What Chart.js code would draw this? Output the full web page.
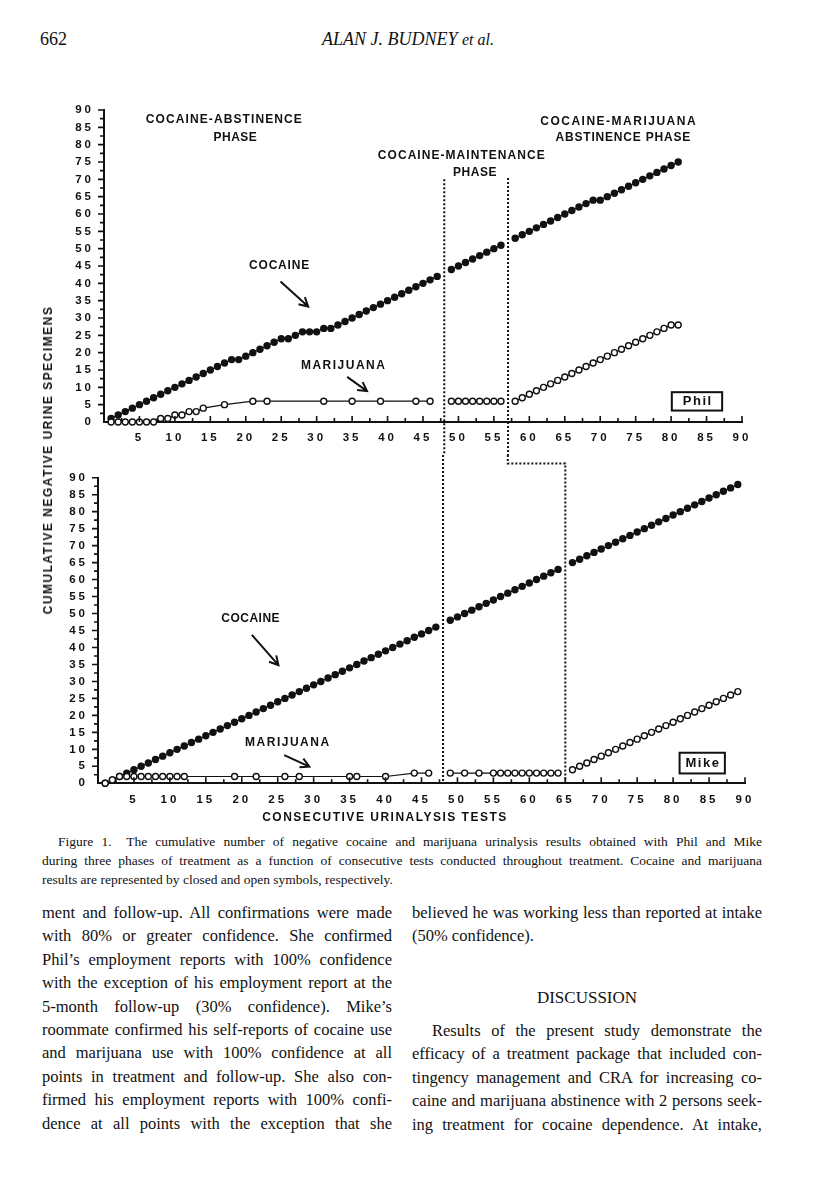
<!DOCTYPE html>
<html>
<head>
<meta charset="utf-8">
<script src="https://cdn.jsdelivr.net/npm/chart.js@4.4.1/dist/chart.umd.min.js"></script>
<style>
  body { margin: 0; width: 816px; height: 1200px; position: relative; overflow: hidden; background: #fff; color: #111; font-family: "Liberation Serif", "Times New Roman", serif; }
  canvas { position: absolute; left: 0; }
  .abs { position: absolute; }
  .sans { font-family: "Liberation Sans", Arial, sans-serif; font-weight: bold; letter-spacing: 1.5px; font-size: 12px; white-space: nowrap; }
  .col { position: absolute; font-size: 16.5px; line-height: 23.4px; }
  .j { text-align: justify; text-align-last: justify; }
  .cap { position: absolute; left: 42px; width: 720px; font-size: 13.5px; line-height: 19px; }
</style>
</head>
<body>

<div class="abs" style="left:40px;top:29px;font-size:18px;">662</div>
<div class="abs" style="left:0;width:816px;top:29px;font-size:18px;text-align:center;font-style:italic;">ALAN J. BUDNEY <span style="font-size:16px">et al.</span></div>

<canvas id="phil" width="816" height="367" style="top:88px"></canvas>
<canvas id="mike" width="816" height="370" style="top:455px"></canvas>

<div class="abs sans" style="left:48px;top:460px;transform:translate(-50%,-50%) rotate(-90deg);">CUMULATIVE NEGATIVE URINE SPECIMENS</div>
<div class="abs sans" style="left:385px;top:817px;transform:translate(-50%,-50%);">CONSECUTIVE URINALYSIS TESTS</div>

<div class="cap" style="top:832px;">
  <div class="j" style="text-indent:16px">Figure 1.&ensp; The cumulative number of negative cocaine and marijuana urinalysis results obtained with Phil and Mike</div>
  <div class="j">during three phases of treatment as a function of consecutive tests conducted throughout treatment. Cocaine and marijuana</div>
  <div>results are represented by closed and open symbols, respectively.</div>
</div>

<div class="col" style="left:42px;top:901px;width:350px;">
  <div class="j">ment and follow-up. All confirmations were made</div>
  <div class="j">with 80% or greater confidence. She confirmed</div>
  <div class="j">Phil’s employment reports with 100% confidence</div>
  <div class="j">with the exception of his employment report at the</div>
  <div class="j">5-month follow-up (30% confidence). Mike’s</div>
  <div class="j">roommate confirmed his self-reports of cocaine use</div>
  <div class="j">and marijuana use with 100% confidence at all</div>
  <div class="j">points in treatment and follow-up. She also con-</div>
  <div class="j">firmed his employment reports with 100% confi-</div>
  <div class="j">dence at all points with the exception that she</div>
</div>

<div class="col" style="left:412px;top:901px;width:350px;">
  <div class="j">believed he was working less than reported at intake</div>
  <div>(50% confidence).</div>
</div>
<div class="col" style="left:412px;top:986px;width:350px;text-align:center;font-size:17px;">DISCUSSION</div>
<div class="col" style="left:412px;top:1019px;width:350px;">
  <div class="j" style="text-indent:20px">Results of the present study demonstrate the</div>
  <div class="j">efficacy of a treatment package that included con-</div>
  <div class="j">tingency management and CRA for increasing co-</div>
  <div class="j">caine and marijuana abstinence with 2 persons seek-</div>
  <div class="j">ing treatment for cocaine dependence. At intake,</div>
</div>

<script>
// Values: test number -> cumulative negative specimens.
// null marks the test where the phase line sits (line is broken there).
const philCocaineTests = [1,2,3,4,5,6,7,8,9,10,11,12,13,14,15,16,17,18,19,20,21,22,23,24,25,26,27,28,29,30,
  31,32,33,34,35,36,37,38,39,40,41,42,43,44,45,46,47,48,49,50,51,52,53,54,55,56,57,58,59,60,
  61,62,63,64,65,66,67,68,69,70,71,72,73,74,75,76,77,78,79,80,81];
const philCocaineNeg = [1,2,3,4,5,6,7,8,9,10,11,12,13,14,15,16,17,18,18,19,20,21,22,23,24,24,25,26,26,26,
  27,27,28,29,30,31,32,33,34,35,36,37,38,39,40,41,42,null,44,45,46,47,48,49,50,51,null,53,54,55,
  56,57,58,59,60,61,62,63,64,64,65,66,67,68,69,70,71,72,73,74,75];

const philMarijuanaTests = [1,2,3,4,5,6,7,8,9,10,11,12,13,14,17,21,23,31,35,39,44,46,48,
  49,50,51,52,53,54,55,56,57,58,59,60,61,62,63,64,65,66,67,68,69,70,71,72,73,74,75,76,77,78,79,80,81];
const philMarijuanaNeg = [0,0,0,0,0,0,0,1,1,2,2,3,3,4,5,6,6,6,6,6,6,6,null,
  6,6,6,6,6,6,6,6,null,6,7,8,9,10,11,12,13,14,15,16,17,18,19,20,21,22,23,24,25,26,27,28,28];

const mikeCocaineTests = [1,2,3,4,5,6,7,8,9,10,11,12,13,14,15,16,17,18,19,20,21,22,23,24,25,26,27,28,29,30,
  31,32,33,34,35,36,37,38,39,40,41,42,43,44,45,46,47,48,49,50,51,52,53,54,55,56,57,58,59,60,
  61,62,63,64,65,66,67,68,69,70,71,72,73,74,75,76,77,78,79,80,81,82,83,84,85,86,87,88,89];
const mikeCocaineNeg = [0,1,2,3,4,5,6,7,8,9,10,11,12,13,14,15,16,17,18,19,20,21,22,23,24,25,26,27,28,29,
  30,31,32,33,34,35,36,37,38,39,40,41,42,43,44,45,46,null,48,49,50,51,52,53,54,55,56,57,58,59,
  60,61,62,63,null,65,66,67,68,69,70,71,72,73,74,75,76,77,78,79,80,81,82,83,84,85,86,87,88];

const mikeMarijuanaTests = [1,2,3,4,5,6,7,8,9,10,11,12,19,22,26,28,35,36,40,44,46,48,
  49,51,53,55,56,57,58,59,60,61,62,63,64,65,
  66,67,68,69,70,71,72,73,74,75,76,77,78,79,80,81,82,83,84,85,86,87,88,89];
const mikeMarijuanaNeg = [0,1,2,2,2,2,2,2,2,2,2,2,2,2,2,2,2,2,2,3,3,null,
  3,3,3,3,3,3,3,3,3,3,3,3,3,null,
  4,5,6,7,8,9,10,11,12,13,14,15,16,17,18,19,20,21,22,23,24,25,26,27];

const FONT = '"Liberation Sans", Arial, sans-serif';
const INK = '#111';

function series(tests, values) {
    return tests.map((t, i) => ({ x: t, y: values[i] }));
}

// tick labels are letter-spaced in the original
const spacing = {
    id: 'spacing',
    beforeDraw(chart) { chart.ctx.letterSpacing = '3px'; },          // x scale (z 0)
    afterDatasetsDraw(chart) { chart.ctx.letterSpacing = '1px'; },   // y scale (z 1)
    afterDraw(chart) { chart.ctx.letterSpacing = '0px'; }
};

// short tick marks: y ticks outward, x ticks pointing up into the plot
const tickMarks = {
    id: 'tickMarks',
    afterDraw(chart) {
        const ctx = chart.ctx, xs = chart.scales.x, ys = chart.scales.y;
        ctx.save();
        ctx.strokeStyle = INK;
        ctx.lineWidth = 1.6;
        ctx.beginPath();
        xs.ticks.forEach(t => {
            if (t.value === 0) return;
            const px = xs.getPixelForValue(t.value), len = t.value % 5 === 0 ? 6 : 4;
            ctx.moveTo(px, ys.bottom);
            ctx.lineTo(px, ys.bottom - len);
        });
        ys.ticks.forEach(t => {
            if (t.value === 0) return;
            const py = ys.getPixelForValue(t.value), len = t.value % 5 === 0 ? 6 : 4;
            ctx.moveTo(xs.left, py);
            ctx.lineTo(xs.left - len, py);
        });
        ctx.stroke();
        ctx.restore();
    }
};

// labels, arrows, name box and the dotted phase lines, placed in data units
const notes = {
    id: 'notes',
    afterDraw(chart, args, opts) {
        const ctx = chart.ctx, xs = chart.scales.x, ys = chart.scales.y;
        const X = v => xs.getPixelForValue(v);
        const Y = v => v === 'top' ? 0 : v === 'bottom' ? chart.height : ys.getPixelForValue(v);
        ctx.save();
        ctx.fillStyle = INK;
        ctx.strokeStyle = INK;
        ctx.textAlign = 'center';
        ctx.textBaseline = 'middle';
        opts.labels.forEach(l => {
            ctx.font = `bold 12px ${FONT}`;
            ctx.letterSpacing = l.sp + 'px';
            ctx.fillText(l.text, X(l.x) + l.sp / 2, Y(l.y));
        });

        ctx.letterSpacing = '0px';
        ctx.lineWidth = 2;
        opts.arrows.forEach(a => {
            const x1 = X(a.from[0]), y1 = Y(a.from[1]), x2 = X(a.to[0]), y2 = Y(a.to[1]);
            const ang = Math.atan2(y2 - y1, x2 - x1), h = 10;
            ctx.beginPath();
            ctx.moveTo(x1, y1);
            ctx.lineTo(x2, y2);
            ctx.moveTo(x2 - h * Math.cos(ang - 0.5), y2 - h * Math.sin(ang - 0.5));
            ctx.lineTo(x2, y2);
            ctx.lineTo(x2 - h * Math.cos(ang + 0.5), y2 - h * Math.sin(ang + 0.5));
            ctx.stroke();
        });

        const b = opts.box;
        ctx.strokeRect(X(b.x0), Y(b.y1), X(b.x1) - X(b.x0), Y(b.y0) - Y(b.y1));
        ctx.font = `bold 13px ${FONT}`;
        ctx.letterSpacing = '1.5px';
        ctx.fillText(b.text, (X(b.x0) + X(b.x1)) / 2 + 0.75, (Y(b.y0) + Y(b.y1)) / 2 + 0.5);
        ctx.letterSpacing = '0px';

        ctx.setLineDash([2, 2]);
        ctx.lineWidth = 2;
        opts.phaseLines.forEach(path => {
            ctx.beginPath();
            path.forEach(([vx, vy], i) => {
                if (i === 0) ctx.moveTo(X(vx), Y(vy));
                else ctx.lineTo(X(vx), Y(vy));
            });
            ctx.stroke();
        });
        ctx.restore();
    }
};

function makeChart(id, cfg) {
    const tickFont = { family: FONT, size: 11.5, weight: 'bold' };
    return new Chart(document.getElementById(id), {
        type: 'line',
        data: {
            datasets: [
                {
                    label: 'Marijuana',
                    data: series(cfg.mjTests, cfg.mjNeg),
                    borderColor: INK, borderWidth: 1.2,
                    pointRadius: 3, pointBorderWidth: 1.4,
                    pointBackgroundColor: '#fff', pointBorderColor: INK,
                    clip: false
                },
                {
                    label: 'Cocaine',
                    data: series(cfg.cocTests, cfg.cocNeg),
                    borderColor: INK, borderWidth: 1.2,
                    pointRadius: 3.7, pointBorderWidth: 0,
                    pointBackgroundColor: INK, pointBorderColor: INK,
                    clip: false
                }
            ]
        },
        options: {
            responsive: false,
            animation: false,
            devicePixelRatio: 1,
            events: [],
            layout: { padding: cfg.padding },
            plugins: {
                legend: { display: false },
                tooltip: { enabled: false },
                notes: cfg.notes
            },
            scales: {
                x: {
                    type: 'linear', min: 0, max: 90,
                    afterFit: axis => { axis.height = 28; },
                    border: { display: true, width: 2, color: INK },
                    grid: { drawOnChartArea: false, drawTicks: false },
                    ticks: {
                        stepSize: 2.5, autoSkip: false, maxRotation: 0, padding: cfg.xPad,
                        color: INK, font: tickFont,
                        callback: v => (v > 0 && v % 5 === 0) ? String(v) : ''
                    }
                },
                y: {
                    type: 'linear', min: 0, max: 90, z: 1,
                    afterFit: axis => { axis.width = cfg.yWidth; },
                    border: { display: true, width: 2, color: INK },
                    grid: { drawOnChartArea: false, drawTicks: false },
                    ticks: {
                        stepSize: 2.5, autoSkip: false, padding: 10,
                        color: INK, font: { family: FONT, size: 11.5, weight: 'bold' },
                        callback: v => v % 5 === 0 ? String(v) : ''
                    }
                }
            }
        },
        plugins: [spacing, tickMarks, notes]
    });
}

makeChart('phil', {
    cocTests: philCocaineTests, cocNeg: philCocaineNeg,
    mjTests: philMarijuanaTests, mjNeg: philMarijuanaNeg,
    padding: { left: 50, right: 74, top: 22, bottom: 5 },
    yWidth: 54, xPad: 9,
    notes: {
        labels: [
            { text: 'COCAINE-ABSTINENCE', x: 16.9, y: 87.1, sp: 1.1 },
            { text: 'PHASE', x: 18.5, y: 82.1, sp: 0.5 },
            { text: 'COCAINE-MAINTENANCE', x: 50.4, y: 76.7, sp: 1.05 },
            { text: 'PHASE', x: 52.3, y: 72.0, sp: 0.5 },
            { text: 'COCAINE-MARIJUANA', x: 72.5, y: 86.6, sp: 1.5 },
            { text: 'ABSTINENCE PHASE', x: 73.2, y: 82.1, sp: 0.8 },
            { text: 'COCAINE', x: 24.7, y: 45.0, sp: 0.8 },
            { text: 'MARIJUANA', x: 33.7, y: 16.2, sp: 1.5 }
        ],
        arrows: [
            { from: [24.9, 40.5], to: [28.8, 33.3] },
            { from: [34.3, 13.0], to: [37.1, 8.9] }
        ],
        box: { text: 'Phil', x0: 80.1, x1: 87.2, y0: 3.3, y1: 8.6 },
        phaseLines: [
            [[48, 70], [48, 'bottom']],
            [[57, 70.4], [57, 'bottom']]
        ]
    }
});

makeChart('mike', {
    cocTests: mikeCocaineTests, cocNeg: mikeCocaineNeg,
    mjTests: mikeMarijuanaTests, mjNeg: mikeMarijuanaNeg,
    padding: { left: 50, right: 71, top: 22.7, bottom: 13.7 },
    yWidth: 48, xPad: 9.8,
    notes: {
        labels: [
            { text: 'COCAINE', x: 21.2, y: 48.4, sp: 0.5 },
            { text: 'MARIJUANA', x: 26.3, y: 12.1, sp: 1.5 }
        ],
        arrows: [
            { from: [21.4, 43.7], to: [25.1, 34.8] },
            { from: [25.9, 8.3], to: [29.4, 4.9] }
        ],
        box: { text: 'Mike', x0: 80.9, x1: 87.2, y0: 2.9, y1: 9.0 },
        phaseLines: [
            [[48, 'top'], [48, 0]],
            [[57, 'top'], [57, 94.2], [65, 94.2], [65, 0]]
        ]
    }
});
</script>
</body>
</html>
